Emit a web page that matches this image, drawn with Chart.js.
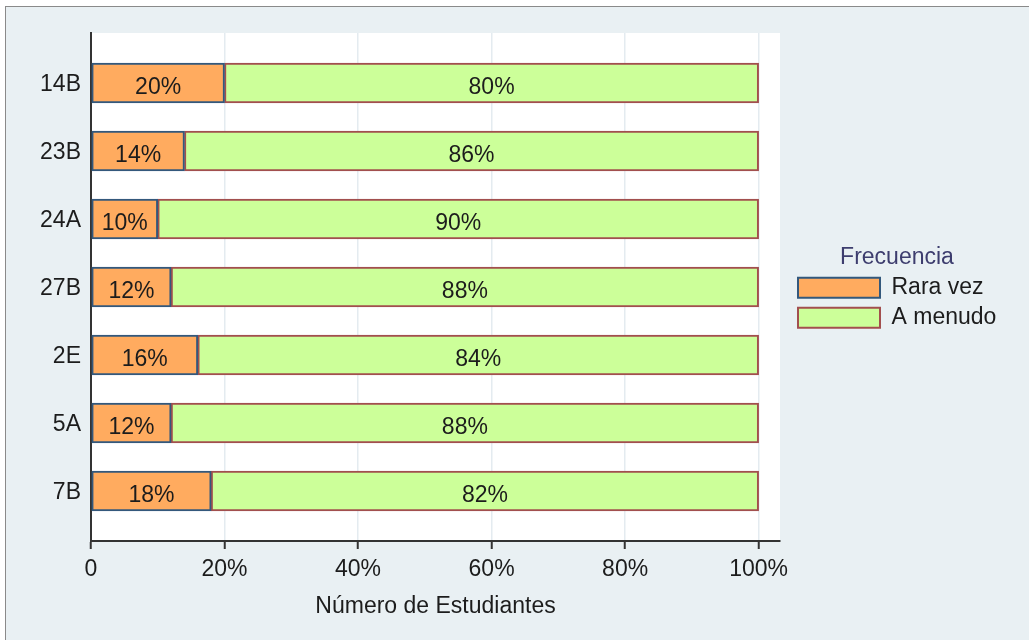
<!DOCTYPE html>
<html>
<head>
<meta charset="utf-8">
<script src="https://cdn.jsdelivr.net/npm/chart.js@4/dist/chart.umd.min.js"></script>
<style>
  html, body { margin: 0; padding: 0; background: #ffffff; overflow: hidden; }
  #frame {
    position: absolute; left: 5px; top: 6px; width: 1100px; height: 700px;
    border-left: 1px solid #8a8a8a; border-top: 1px solid #8a8a8a; background: #e9f0f3;
  }
  #freq-chart { position: absolute; left: 0; top: 0; }
</style>
</head>
<body>
<div id="frame"></div>
<canvas id="freq-chart" width="1029" height="640"></canvas>
<script>
const groups = ["14B", "23B", "24A", "27B", "2E", "5A", "7B"];
const raraVez = [20, 14, 10, 12, 16, 12, 18];
const aMenudo = [80, 86, 90, 88, 84, 88, 82];
const xTicks = [0, 20, 40, 60, 80, 100];

const FONT = '"Liberation Sans", Arial, sans-serif';
const FONT_SIZE = 23;
const TEXT_COLOR = "#1c1c1c";
const PLOT_TOP = 33;
const PLOT_RIGHT = 780;
const LEGEND_WIDTH = 212;
const LEGEND_SHIFT = 11;

Chart.defaults.font.family = FONT;
Chart.defaults.color = TEXT_COLOR;

// white plot panel behind the bars
const plotPanelPlugin = {
  id: "plotPanel",
  beforeDraw(chartInstance) {
    const { ctx, chartArea } = chartInstance;
    ctx.save();
    ctx.fillStyle = "#ffffff";
    ctx.fillRect(chartArea.left, chartArea.top, chartArea.right - chartArea.left, chartArea.bottom - chartArea.top);
    ctx.restore();
  }
};

// legend sits a little right of the plot edge, centred on the plot height
const legendPlacePlugin = {
  id: "legendPlace",
  beforeInit(chartInstance) {
    const originalFit = chartInstance.legend.fit;
    chartInstance.legend.fit = function fit() {
      originalFit.bind(this)();
      this.width = LEGEND_WIDTH;
    };
  },
  afterLayout(chartInstance) {
    const legend = chartInstance.legend;
    legend.left += LEGEND_SHIFT;
    legend.right += LEGEND_SHIFT;
    legend.top = chartInstance.chartArea.top;
    legend.bottom = chartInstance.chartArea.bottom;
    legend.height = legend.bottom - legend.top;
  }
};

const barLabelPlugin = {
  id: "barLabels",
  afterDatasetsDraw(chartInstance) {
    const { ctx } = chartInstance;
    ctx.save();
    ctx.font = `${FONT_SIZE}px ${FONT}`;
    ctx.fillStyle = TEXT_COLOR;
    ctx.textAlign = "center";
    ctx.textBaseline = "middle";
    chartInstance.data.datasets.forEach((dataset, di) => {
      const values = di === 0 ? raraVez : aMenudo;
      chartInstance.getDatasetMeta(di).data.forEach((bar, i) => {
        const { x, y } = bar.getCenterPoint();
        ctx.fillText(`${values[i]}%`, x, y + 5);
      });
    });
    ctx.restore();
  }
};

new Chart(document.querySelector("#freq-chart"), {
  type: "bar",
  plugins: [plotPanelPlugin, legendPlacePlugin, barLabelPlugin],
  data: {
    datasets: [
      {
        label: "Rara vez",
        data: raraVez.map((v, i) => ({ x: v, y: i })),
        backgroundColor: "#ffab5f",
        borderColor: "#33587c",
        borderWidth: 2,
        borderSkipped: false,
        barThickness: 40
      },
      {
        label: "A menudo",
        data: aMenudo.map((v, i) => ({ x: v, y: i })),
        backgroundColor: "#ccff99",
        borderColor: "#a24f4e",
        borderWidth: 2,
        borderSkipped: false,
        barThickness: 40
      }
    ]
  },
  options: {
    indexAxis: "y",
    responsive: false,
    animation: false,
    devicePixelRatio: 1,
    layout: {
      padding: { top: PLOT_TOP, right: 1029 - PLOT_RIGHT - LEGEND_WIDTH, bottom: 0, left: 0 }
    },
    plugins: {
      tooltip: { enabled: false },
      legend: {
        position: "right",
        title: {
          display: true,
          text: "Frecuencia",
          color: "#3d3d6e",
          font: { size: FONT_SIZE },
          padding: { top: 8, bottom: -4 }
        },
        labels: {
          boxWidth: 82,
          boxHeight: 20,
          padding: 7,
          color: TEXT_COLOR,
          font: { size: FONT_SIZE }
        }
      }
    },
    scales: {
      x: {
        type: "linear",
        stacked: true,
        min: 0,
        max: 103.2,
        afterFit(scale) {
          scale.height = 99;
        },
        afterBuildTicks(scale) {
          scale.ticks = xTicks.map((value) => ({ value }));
        },
        grid: {
          color: "#e4ebf0",
          lineWidth: 1.5,
          tickColor: "#333333",
          tickWidth: 2,
          tickLength: 8
        },
        border: { color: "#333333", width: 2 },
        ticks: {
          padding: 7,
          color: TEXT_COLOR,
          font: { size: FONT_SIZE },
          callback: (value) => (value === 0 ? "0" : `${value}%`)
        },
        title: {
          display: true,
          text: "Número de Estudiantes",
          color: TEXT_COLOR,
          font: { size: FONT_SIZE },
          padding: { top: 4, bottom: 20 }
        }
      },
      y: {
        type: "linear",
        stacked: true,
        reverse: true,
        offset: false,
        min: -0.735,
        max: groups.length - 1 + 0.735,
        afterFit(scale) {
          scale.width = 91;
        },
        afterBuildTicks(scale) {
          scale.ticks = groups.map((_g, i) => ({ value: i }));
        },
        grid: { display: false, drawTicks: false },
        border: { color: "#333333", width: 2 },
        ticks: {
          padding: 10,
          labelOffset: 2,
          color: TEXT_COLOR,
          font: { size: FONT_SIZE },
          callback: (value) => groups[value]
        }
      }
    }
  }
});
</script>
</body>
</html>
